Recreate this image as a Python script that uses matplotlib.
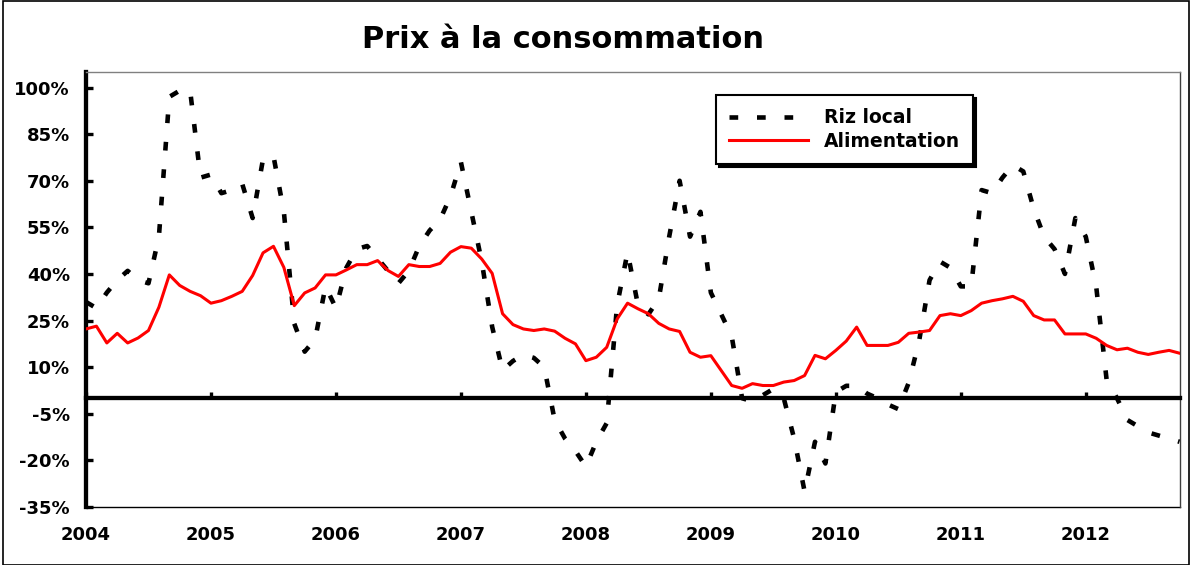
import matplotlib
matplotlib.use('Agg')
import matplotlib.pyplot as plt
from matplotlib.patches import Rectangle
import numpy as np

# ---------------- data ----------------
years = ['2004', '2005', '2006', '2007', '2008', '2009', '2010', '2011', '2012']
ytick_values = [-35, -20, -5, 10, 25, 40, 55, 70, 85, 100]
ytick_labels = ['-35%', '-20%', '-5%', '10%', '25%', '40%', '55%', '70%', '85%', '100%']

# monthly values, Jan 2004 .. Oct 2012 (%)
riz_local = [
    31, 29, 34, 38, 41, 38, 37, 52, 97, 99, 99, 71,          # 2004
    72, 66, 67, 69, 58, 77, 78, 60, 24, 15, 19, 36,          # 2005
    29, 42, 48, 49, 45, 41, 37, 41, 49, 54, 57.5, 65,        # 2006
    76, 60, 44, 23, 9, 12, 14, 13, 10, -7, -13, -17,         # 2007
    -22, -14, -8, 30, 47, 30, 27, 32, 52, 70, 52, 60,        # 2008
    34, 27, 20, 0, -1, 1, 3, 0, -13, -30, -14, -21,          # 2009
    2, 4, 4, 1.5, 0, -2, -3.5, 5, 18.5, 38, 44, 42,          # 2010
    36, 36, 67, 66, 71, 75, 73, 61, 52, 48, 40, 58,          # 2011
    52, 36, 6, 0, -7, -9, -11, -12, -13, -14,                # 2012
]
alimentation = [
    22.3, 23.2, 17.8, 20.9, 17.8, 19.4, 21.8, 29.3, 39.7, 36.3, 34.4, 33.0,
    30.6, 31.4, 32.8, 34.4, 39.5, 46.8, 48.9, 42.1, 29.8, 33.9, 35.5, 39.7,
    39.7, 41.3, 43.0, 43.0, 44.3, 41.1, 39.2, 43.0, 42.4, 42.4, 43.4, 47.0,
    48.8, 48.3, 44.8, 40.2, 27.2, 23.7, 22.3, 21.8, 22.3, 21.6, 19.3, 17.5,
    12.1, 13.2, 16.4, 25.5, 30.6, 28.8, 27.2, 24.1, 22.3, 21.5, 14.8, 13.2,
    13.7, 8.9, 4.1, 3.2, 4.7, 4.1, 4.1, 5.2, 5.7, 7.3, 13.8, 12.7,
    15.4, 18.4, 22.9, 17.0, 17.0, 17.0, 18.0, 20.9, 21.3, 21.8, 26.6, 27.2,
    26.6, 28.2, 30.6, 31.4, 32.0, 32.8, 31.2, 26.6, 25.2, 25.2, 20.7, 20.7,
    20.7, 19.3, 17.0, 15.6, 16.1, 14.8, 14.1, 14.8, 15.4, 14.5,
]

months = np.arange(len(alimentation))
year_pos = np.arange(len(years)) * 12

plt.rcParams['font.family'] = ['DejaVu Sans']
plt.rcParams['font.weight'] = 'bold'

W, H = 1191, 565
fig = plt.figure(figsize=(W / 100, H / 100), dpi=100)
ax = fig.add_axes([86 / W, 1 - 507 / H, (1179.5 - 86) / W, (507 - 72) / H])

ax.plot(months, riz_local, color='black', lw=3.3, linestyle=(0, (1.9, 4.1)),
        dash_capstyle='butt', label='Riz local', zorder=3)
ax.plot(months, alimentation, color='#FF0000', lw=2.2, label='Alimentation',
        zorder=4)

ax.set_xlim(0, 105)
ax.set_ylim(-35, 105)

# zero line as bottom spine
ax.spines['bottom'].set_position(('data', 0))
ax.spines['bottom'].set_linewidth(3.1)
ax.spines['left'].set_linewidth(3.1)
ax.spines['top'].set_color('#808080')
ax.spines['top'].set_linewidth(1.0)
ax.spines['right'].set_color('#404040')
ax.spines['right'].set_linewidth(1.0)

ax.set_xticks(year_pos)
ax.tick_params(axis='x', direction='in', length=4, width=2.4, labelbottom=False)
ax.set_yticks(ytick_values)
ax.set_yticklabels(ytick_labels)
ax.tick_params(axis='y', direction='in', length=5, width=2.4, pad=11.5,
               labelsize=13)

sec = ax.secondary_xaxis(0.0)
sec.set_xticks(year_pos, labels=years)
sec.tick_params(length=0, pad=14, labelsize=13)
sec.spines['bottom'].set_linewidth(1.0)

leg = ax.legend(loc='upper left', bbox_to_anchor=(0.576, 0.947),
                borderaxespad=0, frameon=True, fancybox=False,
                shadow={'color': 'black', 'alpha': 1}, edgecolor='black',
                framealpha=1, fontsize=13.5, handlelength=4.2,
                handletextpad=0.85, borderpad=0.7, labelspacing=0.25)
leg.get_frame().set_linewidth(1.5)

fig.text(0.473, 1 - 48 / H, 'Prix à la consommation', ha='center',
         va='baseline', fontsize=22, fontweight='bold')

fig.patches.append(Rectangle((3 / W, 0.5 / H), 1186 / W, 563.5 / H,
                             transform=fig.transFigure, fill=False,
                             edgecolor='black', lw=1.2))

fig.savefig('out.png', dpi=100)
